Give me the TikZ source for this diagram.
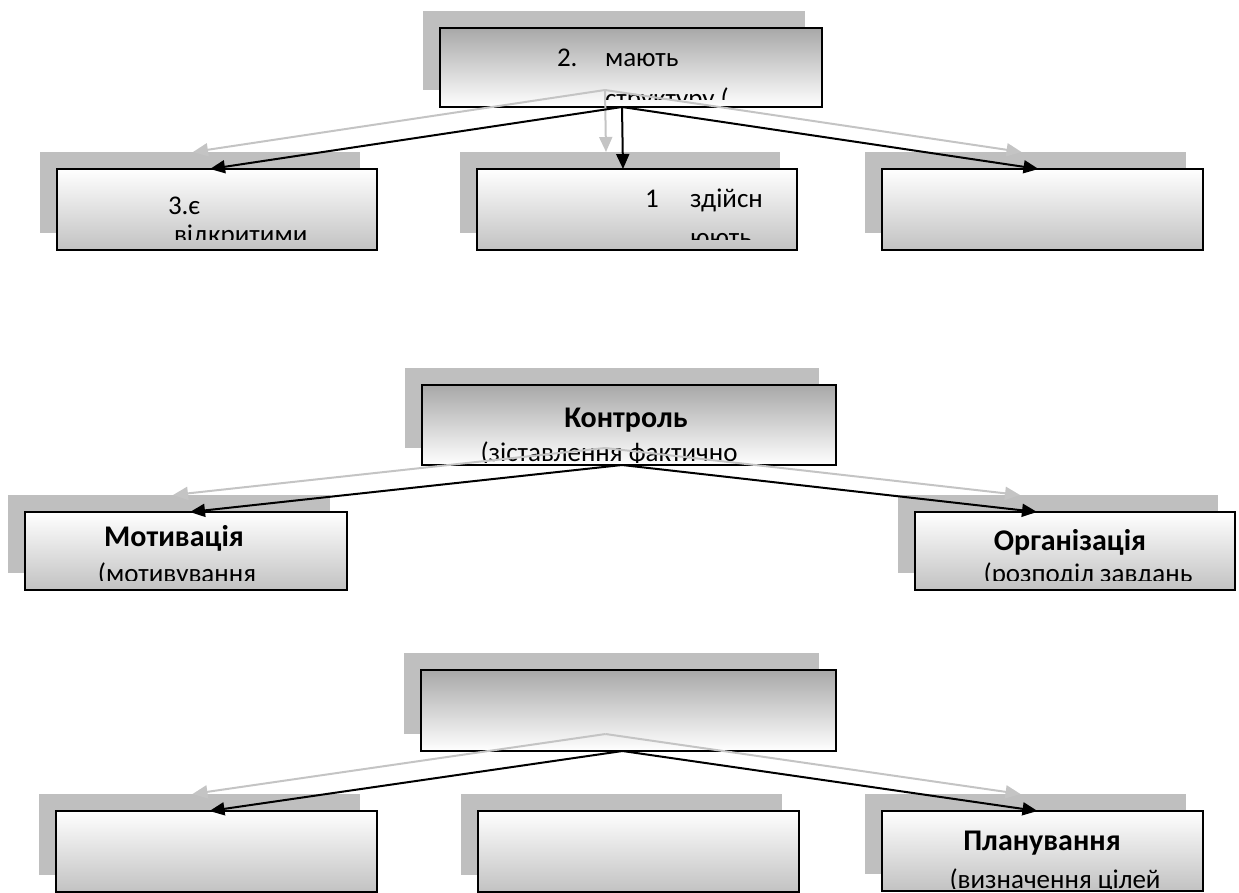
\documentclass[tikz,border=0pt]{standalone}
\usepackage{fontspec}
\setmainfont{Carlito}
\usetikzlibrary{arrows.meta}

\definecolor{shadowgray}{HTML}{BFBFBF}
\definecolor{linkgray}{HTML}{C4C4C4}
\definecolor{headgray}{HTML}{A8A8A8}
\definecolor{footgray}{HTML}{C2C2C2}

% a box with its grey drop shadow: name, x, y (top left), width, height, style
\newcommand\shadedbox[6]{%
  \node[shadowbox, minimum width=#4pt, minimum height=#5pt] (#1-sh) at (#2-17,#3-17) {};
  \node[#6, minimum width=#4pt, minimum height=#5pt] (#1) at (#2,#3) {};
}

\begin{document}
\begin{tikzpicture}[
  x=1pt, y=-1pt,
  shadowbox/.style={fill=shadowgray, draw=none, inner sep=0pt, outer sep=0pt, anchor=north west},
  parentbox/.style={draw=black, line width=1.6pt, top color=headgray, bottom color=white,
                    inner sep=0pt, outer sep=0pt, anchor=north west},
  childbox/.style={draw=black, line width=1.6pt, top color=white, bottom color=footgray,
                   inner sep=0pt, outer sep=0pt, anchor=north west},
  txt/.style={inner sep=0pt, outer sep=0pt, font=\fontsize{27}{33}\selectfont},
  btxt/.style={txt, font=\fontsize{30}{36}\selectfont\bfseries},
  link/.style={line width=2pt, -{Triangle[length=15pt,width=13pt]}},
  blacklink/.style={link, draw=black, fill=black},
  greylink/.style={link, draw=linkgray, fill=linkgray},
]
\useasboundingbox (0,0) rectangle (1239,893);

% ---- first tree ----
\shadedbox{a}{440}{28}{382}{79}{parentbox}
\shadedbox{b1}{57}{169}{320}{81}{childbox}
\shadedbox{b2}{477}{169}{320}{81}{childbox}
\shadedbox{b3}{882}{169}{321}{81}{childbox}

% ---- second tree ----
\shadedbox{c}{422}{385}{414}{80}{parentbox}
\shadedbox{d}{25}{512}{322}{78}{childbox}
\shadedbox{e}{915}{512}{320}{78}{childbox}

% ---- third tree ----
\shadedbox{f}{421}{670}{415}{81}{parentbox}
\shadedbox{g1}{56}{811}{321}{81}{childbox}
\shadedbox{g2}{478}{811}{321}{81}{childbox}
\shadedbox{h}{882}{811}{321}{80}{childbox}

% ---- texts, cut off at the lower edge of their boxes ----
\begin{scope}
  \clip (a.north west) rectangle ([yshift=7pt]a.south east);
  \node[txt, anchor=base west] (a-n) at (557,67) {2.};
  \node[txt, anchor=base west] (a-l1) at (605,67) {мають};
  \node[txt, anchor=base west] (a-l2) at (605,108) {структуру (};
\end{scope}
\begin{scope}
  \clip (b1.north west) rectangle ([yshift=10pt]b1.south east);
  \node[txt, anchor=base west] (b1-l1) at (168,215) {3.є};
  \node[txt, anchor=base west] (b1-l2) at (174,244) {відкритими};
\end{scope}
\begin{scope}
  \clip (b2.north west) rectangle ([yshift=10pt]b2.south east);
  \node[txt, anchor=base west] (b2-n) at (645,208) {1};
  \node[txt, anchor=base west] (b2-l1) at (690,208) {здійсн};
  \node[txt, anchor=base west] (b2-l2) at (690,247) {юють};
\end{scope}
\begin{scope}
  \clip (c.north west) rectangle ([yshift=3pt]c.south east);
  \node[btxt, anchor=base] (c-l1) at (626,427) {Контроль};
  \node[txt, anchor=base] (c-l2) at (609,461) {(зіставлення фактично};
\end{scope}
\begin{scope}
  \clip (d.north west) rectangle ([yshift=10pt]d.south east);
  \node[btxt, anchor=base] (d-l1) at (174,546) {Мотивація};
  \node[txt, anchor=base] (d-l2) at (177,582) {(мотивування};
\end{scope}
\begin{scope}
  \clip (e.north west) rectangle ([yshift=10pt]e.south east);
  \node[btxt, anchor=base] (e-l1) at (1070,550) {Організація};
  \node[txt, anchor=base] (e-l2) at (1088,582) {(розподіл завдань};
\end{scope}
\begin{scope}
  \clip (h.north west) rectangle ([yshift=3pt]h.south east);
  \node[btxt, anchor=base] (h-l1) at (1042,850) {Планування};
  \node[txt, anchor=base] (h-l2) at (1055,888) {(визначення цілей};
\end{scope}

% ---- connector shadows ----
\draw[greylink] ([xshift=-9pt]a-sh.south) -- ([xshift=-7pt]b1-sh.north);
\draw[greylink] ([xshift=-9pt]a-sh.south) -- ([xshift=-14pt]b2-sh.north);
\draw[greylink] ([xshift=-9pt]a-sh.south) -- ([xshift=-4pt]b3-sh.north);
\draw[greylink] ([xshift=-7pt]c-sh.south) -- ([xshift=4pt]d-sh.north);
\draw[greylink] ([xshift=-7pt]c-sh.south) -- ([xshift=-38pt]e-sh.north);
\draw[greylink] ([xshift=-6pt]f-sh.south) -- ([xshift=-7pt]g1-sh.north);
\draw[greylink] ([xshift=-6pt]f-sh.south) -- ([xshift=-5pt]h-sh.north);

% ---- connectors ----
\draw[blacklink] ([xshift=-9pt]a.south) -- ([xshift=-7pt]b1.north);
\draw[blacklink] ([xshift=-9pt]a.south) -- ([xshift=-14pt]b2.north);
\draw[blacklink] ([xshift=-9pt]a.south) -- ([xshift=-4pt]b3.north);
\draw[blacklink] ([xshift=-7pt]c.south) -- ([xshift=4pt]d.north);
\draw[blacklink] ([xshift=-7pt]c.south) -- ([xshift=-38pt]e.north);
\draw[blacklink] ([xshift=-6pt]f.south) -- ([xshift=-7pt]g1.north);
\draw[blacklink] ([xshift=-6pt]f.south) -- ([xshift=-5pt]h.north);
\end{tikzpicture}
\end{document}
